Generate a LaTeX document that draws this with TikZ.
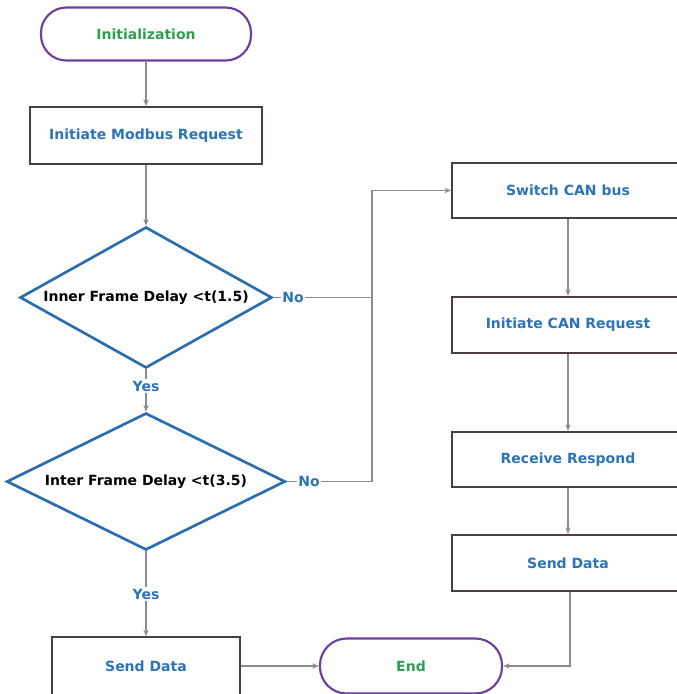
\documentclass[tikz,border=0pt]{standalone}
\usepackage{fontspec}
\setmainfont{DejaVu Sans}
\usetikzlibrary{shapes.geometric,arrows.meta}
\definecolor{purp}{HTML}{6A3FA0}
\definecolor{grn}{HTML}{2E9E4F}
\definecolor{blu}{HTML}{2B74B8}
\definecolor{brd}{HTML}{4A3F3F}
\definecolor{dbl}{HTML}{2A6DB0}
\definecolor{conn}{HTML}{8C8C8C}
\tikzset{
  txt/.style={font=\fontsize{10.5}{12}\selectfont\bfseries},
  term/.style={draw=purp, line width=1.6pt, rounded corners=19pt, fill=white, txt, text=grn, inner sep=0pt},
  proc/.style={draw=brd, line width=1.5pt, fill=white, txt, text=blu, inner sep=0pt},
  dec/.style={draw=dbl, line width=2pt, shape=diamond, fill=white, inner sep=0pt},
  dectxt/.style={txt, text=black},
  lab/.style={txt, text=blu, inner sep=1pt},
  conn/.style={draw=conn, line width=0.8pt},
  arr/.style={conn, -{Stealth[length=5pt,width=4pt]}},
}
\begin{document}
\begin{tikzpicture}[x=0.75pt,y=-0.75pt]
\clip (0,0) rectangle (677,694);
\fill[white] (0,0) rectangle (677,694);
\node[term, minimum width=157.5pt, minimum height=39.75pt] (init) at (146,34) {Initialization};
\node[proc, minimum width=174pt, minimum height=42.75pt] (modbus) at (146,135.5) {Initiate Modbus Request};
\node[dec, minimum width=189pt, minimum height=105.75pt] (d1) at (146,297.5) {};
\node[dectxt] (t1) at (146,297.5) {Inner Frame Delay <t(1.5)};
\node[dec, minimum width=209pt, minimum height=102.75pt] (d2) at (146,481.5) {};
\node[dectxt] (t2) at (146,481.5) {Inter Frame Delay <t(3.5)};
\node[lab] (no1) at (293,297.5) {No};
\node[lab] (no2) at (309,481.5) {No};
\node[lab] (yes1) at (146,386) {Yes};
\node[lab] (yes2) at (146,594) {Yes};
\node[proc, minimum width=141pt, minimum height=43pt] (send1) at (146,666) {Send Data};
\node[term, minimum width=136.5pt, minimum height=41.25pt, rounded corners=20pt] (end) at (411,666) {End};
\node[proc, minimum width=174pt, minimum height=41.25pt] (switch) at (568,190.5) {Switch CAN bus};
\node[proc, minimum width=174pt, minimum height=42pt] (canreq) at (568,325) {Initiate CAN Request};
\node[proc, minimum width=174pt, minimum height=41.25pt] (recv) at (568,459.5) {Receive Respond};
\node[proc, minimum width=174pt, minimum height=42pt] (send2) at (568,563) {Send Data};
\coordinate (j1) at (372,297.5);
\coordinate (j2) at (372,481.5);
\draw[arr] (init) -- (modbus);
\draw[arr] (modbus) -- (d1);
\draw[conn] (d1.south) -- (yes1.north);
\draw[arr] (yes1.south) -- (d2.north);
\draw[conn] (d2.south) -- (yes2.north);
\draw[arr] (yes2.south) -- (send1.north);
\draw[conn] (d1.east) -- (no1.west);
\draw[conn] (no1.east) -- (j1);
\draw[conn] (d2.east) -- (no2.west);
\draw[conn] (no2.east) -- (j2);
\draw[arr] (j2) -- (j2 |- switch.west) -- (switch.west);
\draw[arr] (send1) -- (end);
\draw[arr] (switch) -- (canreq);
\draw[arr] (canreq) -- (recv);
\draw[arr] (recv) -- (send2);
\draw[arr] ([xshift=1.5pt]send2.south) -- ([xshift=1.5pt]send2.south |- end.east) -- (end.east);
\end{tikzpicture}
\end{document}
